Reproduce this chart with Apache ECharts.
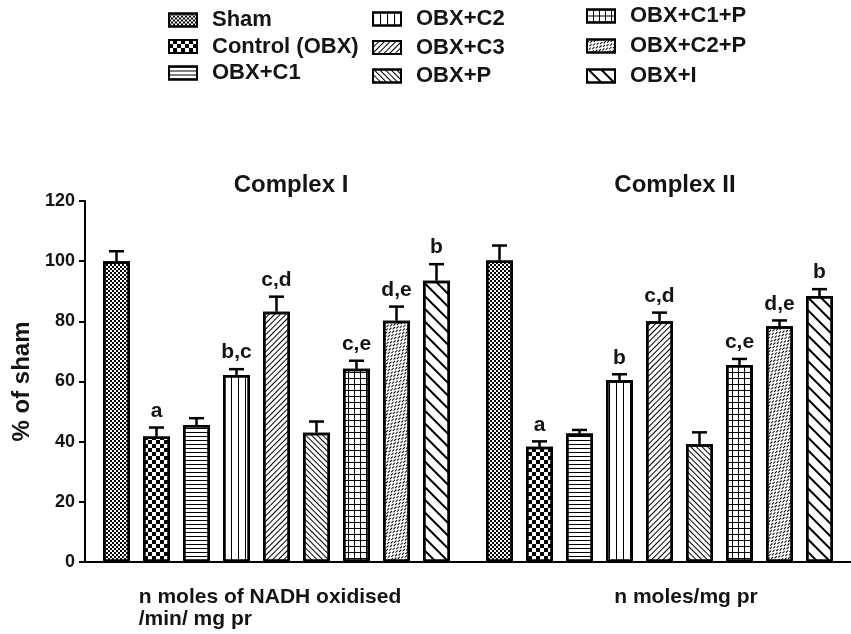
<!DOCTYPE html>
<html><head><meta charset="utf-8">
<script src="https://cdn.jsdelivr.net/npm/echarts@6/dist/echarts.min.js"></script>
<style>html,body{margin:0;padding:0;background:#fff}#c{width:851px;height:634px}</style>
</head><body><div id="c"></div>
<script>
// ---- data ----
const categories = ['n moles of NADH oxidised\n/min/ mg pr', 'n moles/mg pr'];
const groupTitles = ['Complex I', 'Complex II'];
const seriesNames = ['Sham', 'Control (OBX)', 'OBX+C1', 'OBX+C2', 'OBX+C3', 'OBX+P', 'OBX+C1+P', 'OBX+C2+P', 'OBX+I'];
const complexI = [100, 41.7, 45.5, 62.2, 83.2, 43.0, 64.2, 80.2, 93.5];
const complexII = [100.2, 38.3, 42.7, 60.4, 80.0, 39.1, 65.5, 78.4, 88.4];
const errI = [3.3, 3.0, 2.3, 1.9, 5.0, 3.7, 2.7, 4.7, 5.5];
const errII = [5.0, 1.8, 1.2, 2.0, 2.9, 4.0, 2.0, 1.9, 2.3];
const lettersI = ['', 'a', '', 'b,c', 'c,d', '', 'c,e', 'd,e', 'b'];
const lettersII = ['', 'a', '', 'b', 'c,d', '', 'c,e', 'd,e', 'b'];
const yMin = 0, yMax = 120, yInterval = 20;
const yAxisName = '% of sham';

// ---- styles ----
const FONT = '"Liberation Sans", Arial, sans-serif';
const TXT = '#141414';
const BAR_W = 27, BAR_GAP = 13, PITCH = BAR_W + BAR_GAP;
const K = '#000';
const decals = [
  {symbol: 'rect', symbolSize: 1, dashArrayX: [[2, 2], [0, 2, 2, 0]], dashArrayY: [2, 0], color: K},
  {symbol: 'rect', symbolSize: 1, dashArrayX: [[4, 4], [0, 4, 4, 0]], dashArrayY: [4, 0], color: K},
  {symbol: 'rect', symbolSize: 1, dashArrayX: [8, 0], dashArrayY: [1, 3], color: K},
  {symbol: 'rect', symbolSize: 1, dashArrayX: [1, 6], dashArrayY: [8, 0], color: K},
  {symbol: 'rect', symbolSize: 1, dashArrayX: [1, 3], dashArrayY: [8, 0], rotation: Math.PI / 4, color: K},
  {symbol: 'rect', symbolSize: 1, dashArrayX: [1, 3], dashArrayY: [8, 0], rotation: -Math.PI / 4, color: K},
  {symbol: 'rect', symbolSize: 1, dashArrayX: [[6, 0], [1, 5]], dashArrayY: [1, 0, 5, 0], color: K},
  {symbol: 'rect', symbolSize: 1, dashArrayX: [[1, 3], [0, 2, 1, 1]], dashArrayY: [3, 0], rotation: Math.PI / 4, color: K},
  {symbol: 'rect', symbolSize: 1, dashArrayX: [2, 7], dashArrayY: [8, 0], rotation: -Math.PI / 4, color: K}
];

const barSeries = seriesNames.map((name, i) => ({
  type: 'bar', name: name,
  data: [complexI[i], complexII[i]],
  barWidth: BAR_W, barGap: (BAR_GAP / BAR_W * 100) + '%',
  itemStyle: {color: '#fff', borderColor: K, borderWidth: 2.5, decal: decals[i]},
  emphasis: {disabled: true}
}));

const errData = [];
[complexI, complexII].forEach((vals, c) => {
  const errs = c ? errII : errI;
  vals.forEach((v, i) => errData.push([c, i, v, errs[i]]));
});
const letters = lettersI.concat(lettersII);

const errSeries = {
  type: 'custom', name: 'err', z: 5, silent: true,
  encode: {x: 0, y: 2},
  data: errData,
  renderItem: function (params, api) {
    const c = api.value(0), i = api.value(1), v = api.value(2), e = api.value(3);
    const base = api.coord([c, v]);
    const top = api.coord([c, v + e]);
    const x = base[0] + (i - 4) * PITCH;
    return {type: 'group', children: [
      {type: 'line', shape: {x1: x, y1: base[1], x2: x, y2: top[1]}, style: {stroke: K, lineWidth: 2.5}},
      {type: 'line', shape: {x1: x - 7.5, y1: top[1], x2: x + 7.5, y2: top[1]}, style: {stroke: K, lineWidth: 2.5}},
      {type: 'text', style: {text: letters[params.dataIndex], x: x, y: top[1] - 6, align: 'center', verticalAlign: 'bottom',
        font: 'bold 21px ' + FONT, fill: TXT}}
    ]};
  }
};

const legendCommon = {
  orient: 'vertical', icon: 'rect', itemWidth: 28, itemHeight: 13,
  selectedMode: false,
  itemStyle: {borderColor: K, borderWidth: 2},
  textStyle: {fontFamily: FONT, fontWeight: 'bold', fontSize: 22, lineHeight: 22, color: TXT, padding: [0, 0, 0, 10]}
};

const chart = echarts.init(document.getElementById('c'));
chart.setOption({
  animation: false,
  backgroundColor: '#fff',
  title: [
    {text: groupTitles[0], left: 291, top: 173, textAlign: 'center', padding: 0,
      textStyle: {fontFamily: FONT, fontWeight: 'bold', fontSize: 24, color: TXT}},
    {text: groupTitles[1], left: 675, top: 173, textAlign: 'center', padding: 0,
      textStyle: {fontFamily: FONT, fontWeight: 'bold', fontSize: 24, color: TXT}}
  ],
  legend: [
    Object.assign({}, legendCommon, {left: 163, top: 4, itemGap: 4.5, data: seriesNames.slice(0, 3)}),
    Object.assign({}, legendCommon, {left: 367, top: 3, itemGap: 6.5, data: seriesNames.slice(3, 6)}),
    Object.assign({}, legendCommon, {left: 581, top: 0, itemGap: 8, data: seriesNames.slice(6, 9)})
  ],
  grid: {left: 85, right: -10, top: 201, bottom: 72, containLabel: false},
  xAxis: {
    type: 'category', data: categories,
    axisLine: {lineStyle: {color: K, width: 2}},
    axisTick: {alignWithLabel: true, length: 6, lineStyle: {color: K, width: 2}},
    axisLabel: {
      interval: 0, margin: 24, color: TXT,
      formatter: function (v, idx) {
        return v.split('\n').map(s => '{' + (idx === 0 ? 'a' : 'b') + '|' + s + '}').join('\n');
      },
      rich: {
        a: {fontFamily: FONT, fontWeight: 'bold', fontSize: 21, color: TXT, lineHeight: 22, align: 'left', padding: [0, 13, 0, 0]},
        b: {fontFamily: FONT, fontWeight: 'bold', fontSize: 21, color: TXT, lineHeight: 22, align: 'left', padding: [0, 0, 0, 53]}
      }
    }
  },
  yAxis: {
    type: 'value', min: yMin, max: yMax, interval: yInterval,
    name: yAxisName, nameLocation: 'middle', nameGap: 50,
    nameTextStyle: {fontFamily: FONT, fontWeight: 'bold', fontSize: 24, color: TXT},
    axisLine: {show: true, lineStyle: {color: K, width: 2}},
    axisTick: {show: true, length: 6, lineStyle: {color: K, width: 2}},
    axisLabel: {margin: 10, fontFamily: FONT, fontWeight: 'bold', fontSize: 18, color: TXT},
    splitLine: {show: false}
  },
  series: barSeries.concat([errSeries])
});
</script></body></html>
